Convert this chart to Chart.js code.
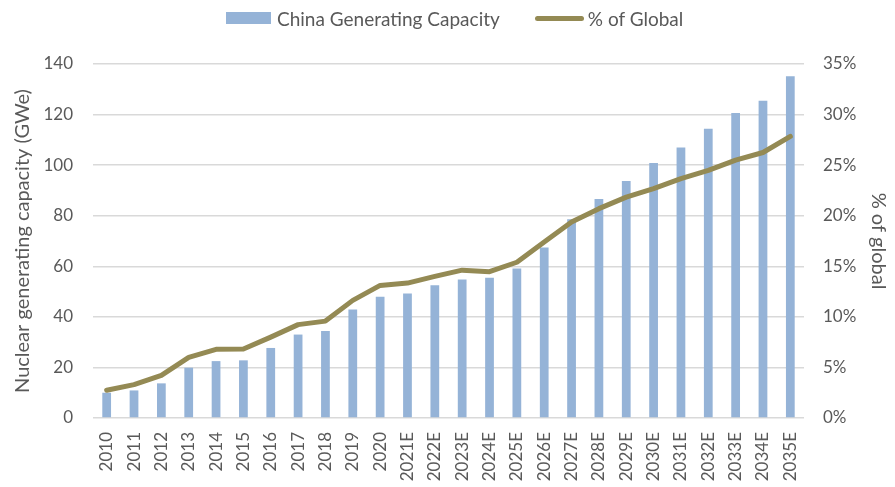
<!DOCTYPE html>
<html>
<head>
<meta charset="utf-8">
<script src="https://cdn.jsdelivr.net/npm/chart.js@4/dist/chart.umd.min.js"></script>
<style>
  html, body { margin: 0; padding: 0; background: #ffffff; }
  #wrap { position: relative; width: 895px; height: 487px; }
  #legend { position: absolute; top: 6px; left: 226px; height: 24px; display: flex; align-items: center;
            font-family: Lato, "Liberation Sans", sans-serif; font-size: 19px; color: #595959; white-space: nowrap; }
  .sw-bar { display: inline-block; width: 45px; height: 12px; background: #95b3d7; margin-right: 6px; }
  .sw-line { display: inline-block; width: 49px; height: 5px; border-radius: 3px; background: #948a54; margin-right: 4px; margin-left: 35px; }
</style>
</head>
<body>
<div id="wrap">
  <canvas id="chart" width="895" height="487"></canvas>
  <div id="legend">
    <span class="sw-bar"></span><span>China Generating Capacity</span>
    <span class="sw-line"></span><span>% of Global</span>
  </div>
</div>
<script>
// Years, actual then estimated
const categories = ['2010','2011','2012','2013','2014','2015','2016','2017','2018','2019','2020',
  '2021E','2022E','2023E','2024E','2025E','2026E','2027E','2028E','2029E','2030E',
  '2031E','2032E','2033E','2034E','2035E'];

// Installed nuclear capacity in China (GWe)
const capacityGWe = [10.0, 10.9, 13.7, 19.9, 22.5, 22.8, 27.7, 33.0, 34.4, 42.9, 48.0,
  49.2, 52.5, 54.8, 55.5, 59.1, 67.4, 78.6, 86.6, 93.7, 100.8,
  107.0, 114.4, 120.6, 125.5, 135.2];

// China's share of global nuclear capacity (%)
const shareOfGlobal = [2.74, 3.3, 4.22, 6.0, 6.79, 6.82, 8.0, 9.23, 9.58, 11.63, 13.11,
  13.34, 14.0, 14.62, 14.47, 15.4, 17.4, 19.37, 20.7, 21.84, 22.67,
  23.66, 24.48, 25.5, 26.25, 27.84];

const leftTicks = [0, 20, 40, 60, 80, 100, 120, 140];
const rightTicks = [0, 5, 10, 15, 20, 25, 30, 35];

const textColor = '#595959';
const gridColor = '#d9d9d9';
const barColor = '#95b3d7';
const lineColor = '#948a54';
const fontFamily = 'Lato, "Liberation Sans", sans-serif';

new Chart(document.getElementById('chart'), {
  data: {
    labels: categories,
    datasets: [
      {
        type: 'line',
        label: '% of Global',
        data: shareOfGlobal,
        yAxisID: 'yPct',
        borderColor: lineColor,
        backgroundColor: lineColor,
        borderWidth: 5,
        pointRadius: 0,
        tension: 0,
        borderJoinStyle: 'round',
        borderCapStyle: 'round',
        order: 1
      },
      {
        type: 'bar',
        label: 'China Generating Capacity',
        data: capacityGWe,
        yAxisID: 'yCap',
        backgroundColor: barColor,
        borderWidth: 0,
        barPercentage: 0.32,
        categoryPercentage: 1.0,
        order: 2
      }
    ]
  },
  options: {
    responsive: false,
    animation: false,
    layout: { padding: { top: 64, left: 0, right: 0, bottom: 0 } },
    plugins: {
      legend: { display: false },
      tooltip: { enabled: false }
    },
    scales: {
      x: {
        type: 'category',
        offset: true,
        grid: { display: false, drawTicks: false },
        border: { display: false },
        ticks: {
          autoSkip: false,
          maxRotation: 90,
          minRotation: 90,
          padding: 14,
          color: textColor,
          font: { family: fontFamily, size: 17 }
        },
        afterFit(axis) { axis.height = 69; }
      },
      yCap: {
        type: 'linear',
        position: 'left',
        min: 0,
        max: 140,
        afterBuildTicks(axis) { axis.ticks = leftTicks.map(v => ({ value: v })); },
        grid: { color: gridColor, lineWidth: 1.5, drawTicks: false },
        border: { display: false },
        ticks: { padding: 20, color: textColor, font: { family: fontFamily, size: 17 } },
        title: {
          display: true,
          text: 'Nuclear generating capacity (GWe)',
          color: textColor,
          font: { family: fontFamily, size: 20 },
          padding: { top: 11, bottom: 0 }
        },
        afterFit(axis) { axis.width = 93; }
      },
      yPct: {
        type: 'linear',
        position: 'right',
        min: 0,
        max: 35,
        afterBuildTicks(axis) { axis.ticks = rightTicks.map(v => ({ value: v })); },
        grid: { display: false, drawTicks: false },
        border: { display: false },
        ticks: {
          padding: 19,
          color: textColor,
          font: { family: fontFamily, size: 17 },
          callback: v => v + '%'
        },
        title: {
          display: true,
          text: '% of global',
          color: textColor,
          font: { family: fontFamily, size: 20 },
          padding: { top: 5, bottom: 0 }
        },
        afterFit(axis) { axis.width = 91; }
      }
    }
  }
});
</script>
</body>
</html>
